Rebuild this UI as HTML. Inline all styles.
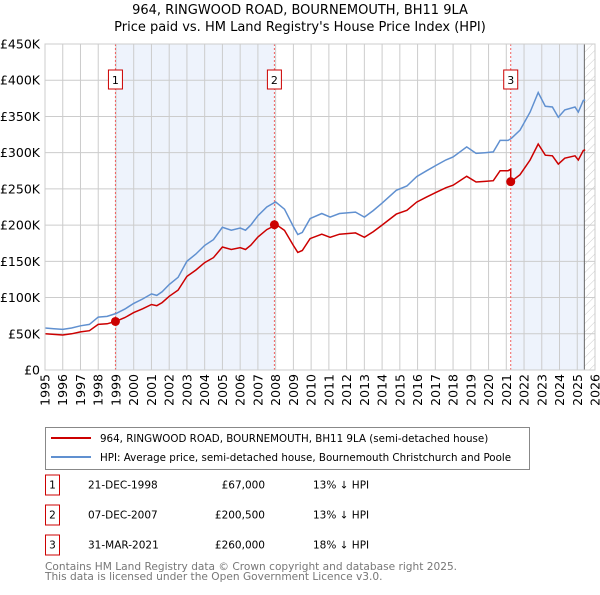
<!DOCTYPE html>
<html><head><meta charset="utf-8"><style>
body{margin:0;background:#fff;font-family:"Liberation Sans","DejaVu Sans",sans-serif;}
svg text{font-family:"DejaVu Sans","Liberation Sans",sans-serif;}
</style></head><body>
<svg id="c" width="600" height="590" xmlns="http://www.w3.org/2000/svg">
<defs><pattern id="hatch" width="6" height="6" patternUnits="userSpaceOnUse" patternTransform="rotate(45)"><line x1="0" y1="0" x2="0" y2="6" stroke="#ccc" stroke-width="1"/></pattern></defs>
<text x="300" y="14" text-anchor="middle" font-size="13" fill="#000">964, RINGWOOD ROAD, BOURNEMOUTH, BH11 9LA</text>
<text x="300" y="31" text-anchor="middle" font-size="13" fill="#000">Price paid vs. HM Land Registry's House Price Index (HPI)</text>
<g id="plot"></g>
<g>
<rect x="45.5" y="427.5" width="484" height="42" fill="#fff" stroke="#888"/>
<line x1="51" y1="438" x2="91" y2="438" stroke="#cc0000" stroke-width="2"/>
<text x="100" y="442" font-size="10.3">964, RINGWOOD ROAD, BOURNEMOUTH, BH11 9LA (semi-detached house)</text>
<line x1="51" y1="457" x2="91" y2="457" stroke="#6090d0" stroke-width="2"/>
<text x="100" y="461" font-size="10.3">HPI: Average price, semi-detached house, Bournemouth Christchurch and Poole</text>
</g>
<g id="table"></g>
<text x="45" y="570" font-size="10.6" fill="#777">Contains HM Land Registry data © Crown copyright and database right 2025.</text>
<text x="45" y="580" font-size="10.6" fill="#777">This data is licensed under the Open Government Licence v3.0.</text>
</svg>
<script>
const hpiYears=[1995.0,1995.5,1996.0,1996.5,1997.0,1997.5,1998.0,1998.5,1999.0,1999.5,2000.0,2000.5,2001.0,2001.3,2001.6,2002.0,2002.5,2003.0,2003.5,2004.0,2004.5,2005.0,2005.5,2006.0,2006.3,2006.6,2007.0,2007.5,2008.0,2008.5,2009.0,2009.25,2009.5,2009.94,2010.6,2011.07,2011.6,2012.5,2013.0,2013.5,2013.98,2014.8,2015.4,2015.95,2016.5,2017.08,2017.6,2018.0,2018.77,2019.3,2019.8,2020.27,2020.65,2021.1,2021.3,2021.77,2022.34,2022.8,2023.2,2023.6,2023.93,2024.3,2024.87,2025.06,2025.34,2025.45];
const hpiValues=[58,57,56,58,61,63,73,74,78,84,92,98,105,103,108,118,128,150,160,172,180,197,193,196,193,200,213,225,232,222,198,187,190,209,216,211,216,218,211,220,230,248,254,267,275,283,290,294,308,299,300,301,317,317,320,331,356,383,364,363,349,359,363,356,372,373];
const saleLabels=["1","2","3"];
const saleDates=["21-DEC-1998","07-DEC-2007","31-MAR-2021"];
const saleYears=[1998.97,2007.93,2021.25];
const salePrices=[67000,200500,260000];
const salePriceText=["£67,000","£200,500","£260,000"];
const saleHpiText=["13% ↓ HPI","13% ↓ HPI","18% ↓ HPI"];
const yTicks=[0,50,100,150,200,250,300,350,400,450];
const yTickLabels=["£0","£50K","£100K","£150K","£200K","£250K","£300K","£350K","£400K","£450K"];
const xYears=[1995,1996,1997,1998,1999,2000,2001,2002,2003,2004,2005,2006,2007,2008,2009,2010,2011,2012,2013,2014,2015,2016,2017,2018,2019,2020,2021,2022,2023,2024,2025,2026];

const X0=45,X1=595,Y0=370,Y1=44,T0=1995,T1=2026,VMAX=450;
const xs=t=>X0+(t-T0)*(X1-X0)/(T1-T0);
const ys=v=>Y0-v*(Y0-Y1)/VMAX;
const NS="http://www.w3.org/2000/svg";
function mk(tag,attrs,parent,txt){const e=document.createElementNS(NS,tag);for(const k in attrs)e.setAttribute(k,attrs[k]);if(txt!==undefined)e.textContent=txt;parent.appendChild(e);return e;}
function hpiAt(t){for(let i=0;i<hpiYears.length-1;i++){if(t<=hpiYears[i+1]){const f=(t-hpiYears[i])/(hpiYears[i+1]-hpiYears[i]);return hpiValues[i]+f*(hpiValues[i+1]-hpiValues[i]);}}return hpiValues[hpiValues.length-1];}
const g=document.getElementById('plot');
const endT=2025.4;
const sh1=mk('rect',{x:xs(saleYears[0]),y:Y1,width:xs(saleYears[1])-xs(saleYears[0]),height:Y0-Y1,fill:'#eef3fc'},g);


const sh2=mk('rect',{x:xs(saleYears[2]),y:Y1,width:xs(endT)-xs(saleYears[2]),height:Y0-Y1,fill:'#eef3fc'},g);


const ht=mk('rect',{x:xs(endT),y:Y1,width:X1-xs(endT),height:Y0-Y1,fill:'url(#hatch)'},g);


yTicks.forEach((v,i)=>{
 const l=mk('line',{x1:X0,x2:X1,y1:ys(v),y2:ys(v),stroke:'#ccc','stroke-width':1},g);
 
 
 const t=mk('text',{x:X0-5,y:ys(v)+4.5,'text-anchor':'end','font-size':12.5},g,yTickLabels[i]);
 
 
});
xYears.forEach(yr=>{
 const l=mk('line',{x1:xs(yr),x2:xs(yr),y1:Y1,y2:Y0,stroke:'#ccc','stroke-width':1},g);
 
 
 const t=mk('text',{x:0,y:0,'text-anchor':'end','font-size':12.5,transform:`translate(${xs(yr)+4.5},${Y0+4}) rotate(-90)`},g,String(yr));
 
 
});
const vl=mk('line',{x1:xs(endT),x2:xs(endT),y1:Y1,y2:Y0,stroke:'#666','stroke-width':1},g);


saleYears.forEach((s,i)=>{
 const l=mk('line',{x1:xs(s),x2:xs(s),y1:Y1,y2:Y0,stroke:'#f06060','stroke-width':1,'stroke-dasharray':'2,2'},g);
 
 
 const b=mk('rect',{x:xs(s)-7,y:70,width:14,height:19,fill:'#fff',stroke:'#cc0000'},g);
 
 
 const t=mk('text',{x:xs(s),y:84,'text-anchor':'middle','font-size':11},g,saleLabels[i]);
 
 
});
const hp=mk('path',{d:hpiYears.map((t,i)=>(i?'L':'M')+xs(t).toFixed(1)+','+ys(hpiValues[i]).toFixed(1)).join(''),fill:'none',stroke:'#6090d0','stroke-width':1.5},g);


const ratios=saleYears.map((s,i)=>salePrices[i]/1000/hpiAt(s));
function ratioAt(t){let r=ratios[0];saleYears.forEach((s,i)=>{if(t>=s)r=ratios[i];});return r;}
const pts=[];
hpiYears.forEach((t,i)=>{
 saleYears.forEach((s,j)=>{if(s>(i?hpiYears[i-1]:-1e9)&&s<=t){pts.push([s,hpiAt(s)*(j?ratios[j-1]:ratios[0])]);pts.push([s,salePrices[j]/1000]);}});
 pts.push([t,hpiValues[i]*ratioAt(t)]);
});
const pp=mk('path',{d:pts.map((p,i)=>(i?'L':'M')+xs(p[0]).toFixed(1)+','+ys(p[1]).toFixed(1)).join(''),fill:'none',stroke:'#cc0000','stroke-width':1.5},g);


saleYears.forEach((s,i)=>{
 const c=mk('circle',{cx:xs(s),cy:ys(salePrices[i]/1000),r:4.5,fill:'#cc0000'},g);
 
 
});
const bd=mk('rect',{x:X0,y:Y1,width:X1-X0,height:Y0-Y1,fill:'none',stroke:'#ccc'},g);


const tb=document.getElementById('table');
saleLabels.forEach((lab,i)=>{
 const cy=485+i*30;
 const b=mk('rect',{x:45.5,y:cy-10,width:14,height:20,fill:'#fff',stroke:'#cc0000'},tb);
 
 
 const t0=mk('text',{x:52.5,y:cy+3.5,'text-anchor':'middle','font-size':10.5},tb,lab);
 
 
 const t1=mk('text',{x:88,y:cy+3.5,'font-size':10.5},tb,saleDates[i]);
 
 
 const t2=mk('text',{x:265,y:cy+3.5,'text-anchor':'end','font-size':10.5},tb,salePriceText[i]);
 
 
 const t3=mk('text',{x:313,y:cy+3.5,'font-size':10.5},tb,saleHpiText[i]);
 
 
});
</script>
</body></html>
